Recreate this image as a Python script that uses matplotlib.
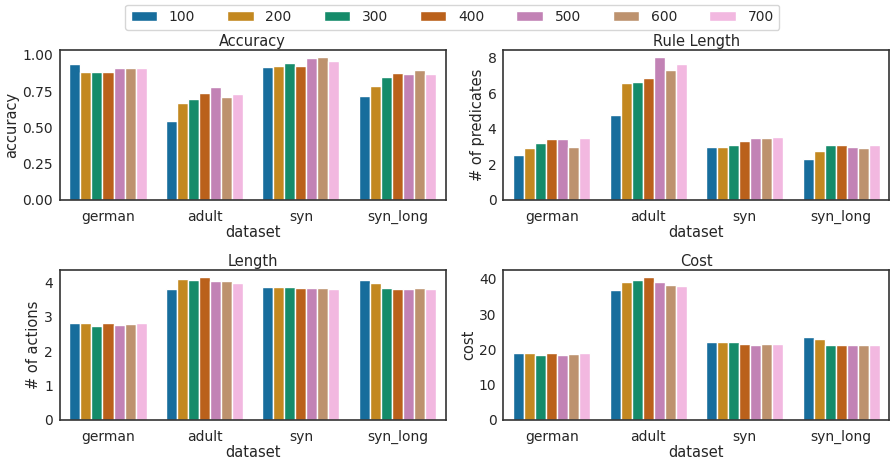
import numpy as np
import pandas as pd
import matplotlib
matplotlib.use("Agg")
import matplotlib.pyplot as plt
import seaborn as sns

datasets = ["german", "adult", "syn", "syn_long"]
sizes = ["100", "200", "300", "400", "500", "600", "700"]

# rows = dataset, columns = size
accuracy = [
    [0.94, 0.88, 0.88, 0.88, 0.907, 0.907, 0.907],
    [0.546, 0.667, 0.697, 0.736, 0.775, 0.706, 0.727],
    [0.914, 0.926, 0.947, 0.926, 0.977, 0.984, 0.956],
    [0.715, 0.785, 0.845, 0.877, 0.866, 0.896, 0.866],
]
rule_length = [
    [2.51, 2.91, 3.21, 3.42, 3.40, 2.99, 3.46],
    [4.80, 6.56, 6.64, 6.86, 8.03, 7.32, 7.66],
    [3.00, 3.00, 3.10, 3.33, 3.46, 3.50, 3.52],
    [2.31, 2.74, 3.06, 3.06, 3.00, 2.93, 3.06],
]
length = [
    [2.82, 2.81, 2.74, 2.81, 2.75, 2.78, 2.81],
    [3.80, 4.09, 4.07, 4.14, 4.04, 4.02, 3.99],
    [3.87, 3.86, 3.86, 3.82, 3.83, 3.84, 3.81],
    [4.05, 3.99, 3.83, 3.81, 3.79, 3.82, 3.80],
]
cost = [
    [19.0, 18.9, 18.4, 19.0, 18.4, 18.8, 19.0],
    [36.7, 38.95, 39.7, 40.4, 39.2, 38.3, 37.9],
    [22.1, 22.2, 22.1, 21.6, 21.3, 21.6, 21.6],
    [23.6, 22.8, 21.2, 21.1, 21.1, 21.3, 21.3],
]

panels = [
    ("Accuracy", "accuracy", accuracy),
    ("Rule Length", "# of predicates", rule_length),
    ("Length", "# of actions", length),
    ("Cost", "cost", cost),
]

sns.set_theme(style="white", palette="colorblind")
plt.rcParams["font.size"] = 10

fig, axes = plt.subplots(2, 2, figsize=(8.92, 4.59), dpi=100)
fig.subplots_adjust(left=0.067, right=0.997, top=0.891, bottom=0.085,
                    wspace=0.15, hspace=0.47)

for ax, (title, ylabel, vals) in zip(axes.flat, panels):
    rows = []
    for i, d in enumerate(datasets):
        for j, s in enumerate(sizes):
            rows.append({"dataset": d, "size": s, "value": vals[i][j]})
    df = pd.DataFrame(rows)
    sns.barplot(data=df, x="dataset", y="value", hue="size", ax=ax,
                palette="colorblind", errorbar=None)
    ax.set_title(title, fontsize=10.5, pad=3)
    ax.set_ylabel(ylabel, fontsize=10.5, labelpad=2)
    ax.set_xlabel("dataset", fontsize=10.5, labelpad=1)
    ax.tick_params(axis="x", labelsize=10, length=0, pad=7)
    ax.tick_params(axis="y", labelsize=10, length=0, pad=5)
    for sp in ax.spines.values():
        sp.set_linewidth(1.2)
        sp.set_color("#333333")
    ax.get_legend().remove()

axes[0, 0].set_yticks([0, 0.25, 0.5, 0.75, 1.0])
axes[0, 1].set_yticks([0, 2, 4, 6, 8])
axes[1, 0].set_yticks([0, 1, 2, 3, 4])
axes[1, 1].set_yticks([0, 10, 20, 30, 40])

handles, labels = axes[0, 0].get_legend_handles_labels()
fig.legend(handles, labels, loc="upper center", ncol=7, fontsize=10,
           bbox_to_anchor=(0.507, 1.005), handlelength=1.9, columnspacing=2.3,
           handletextpad=0.85, frameon=True)

fig.savefig("out.png", dpi=100)
